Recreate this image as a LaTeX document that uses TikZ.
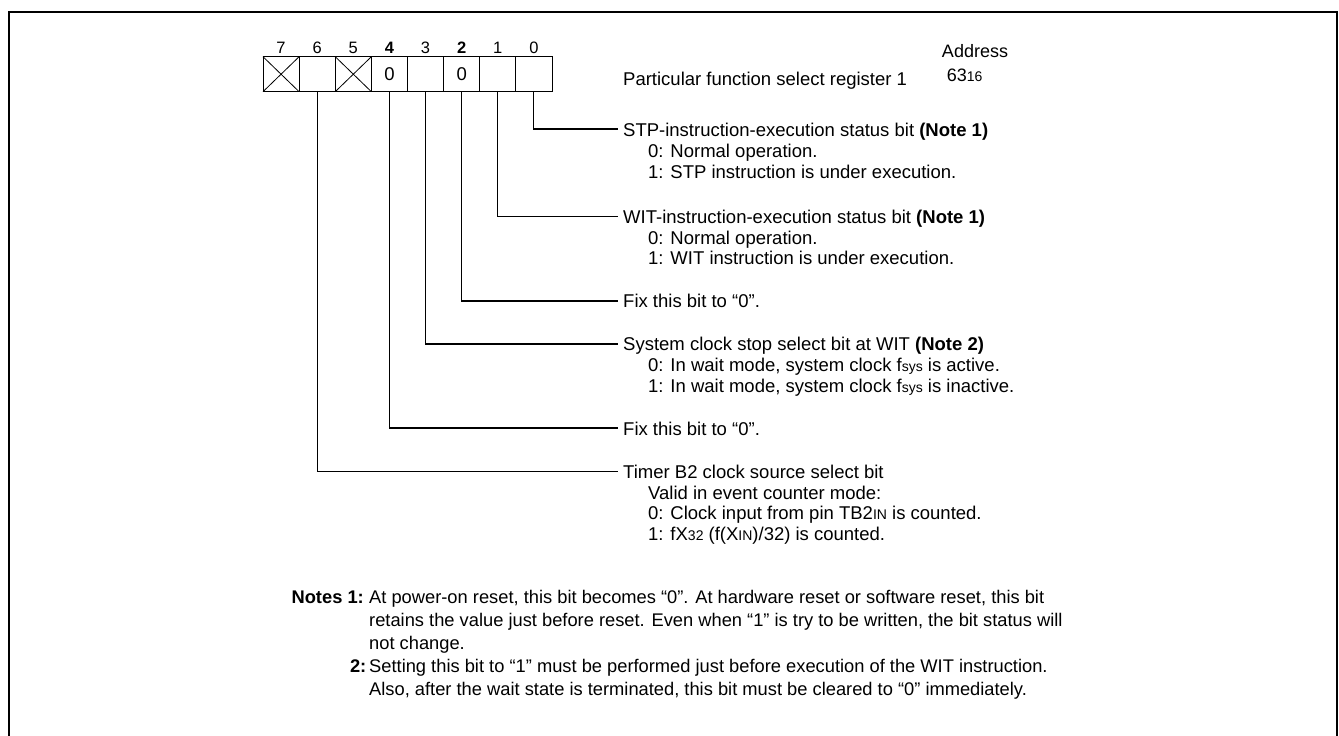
\documentclass[tikz,border=0pt]{standalone}
\usepackage{fontspec}
\setmainfont{Liberation Sans}
\newcommand\smf[1]{{\fontsize{14}{14}\selectfont #1}}
\begin{document}
\begin{tikzpicture}[x=1pt,y=-1pt,
  cell/.style={draw,line width=1pt,minimum width=36.125pt,minimum height=35pt,inner sep=0pt,outer sep=0pt,font=\fontsize{18.5}{20}\selectfont},
  bitnum/.style={inner sep=0pt,anchor=base,font=\fontsize{16.5}{18}\selectfont},
  desc/.style={inner sep=0pt,anchor=base west,font=\fontsize{18.5}{20.7}\selectfont},
  notetxt/.style={inner sep=0pt,anchor=base west,font=\fontsize{18.3}{22}\selectfont},
  notelbl/.style={inner sep=0pt,anchor=base east,font=\fontsize{18.3}{22}\selectfont\bfseries},
  lead/.style={line width=1.1pt},
  xmark/.style={line width=0.8pt}]
\useasboundingbox (0,0) rectangle (1339,736);
\draw[line width=2pt] (9,736) -- (9,11.7) -- (1337,11.7) -- (1337,736);
% register cells
\node[cell] (c7) at (281.06,74.2) {};
\node[cell] (c6) at (317.19,74.2) {};
\node[cell] (c5) at (353.31,74.2) {};
\node[cell] (c4) at (389.44,74.2) {0};
\node[cell] (c3) at (425.56,74.2) {};
\node[cell] (c2) at (461.69,74.2) {0};
\node[cell] (c1) at (497.81,74.2) {};
\node[cell] (c0) at (533.94,74.2) {};
\draw[xmark] (c7.north west) -- (c7.south east) (c7.south west) -- (c7.north east);
\draw[xmark] (c5.north west) -- (c5.south east) (c5.south west) -- (c5.north east);
% bit numbers
\node[bitnum] (n7) at (281.06,53.3) {7};
\node[bitnum] (n6) at (317.19,53.3) {6};
\node[bitnum] (n5) at (353.31,53.3) {5};
\node[bitnum] (n4) at (389.44,53.3) {\bfseries 4};
\node[bitnum] (n3) at (425.56,53.3) {3};
\node[bitnum] (n2) at (461.69,53.3) {\bfseries 2};
\node[bitnum] (n1) at (497.81,53.3) {1};
\node[bitnum] (n0) at (533.94,53.3) {0};
% title and address
\node[desc] (title) at (623,85) {Particular function select register 1};
\node[inner sep=0pt,anchor=base,font=\fontsize{18}{20}\selectfont] (addr) at (975,57.3) {Address};
\node[desc,font=\fontsize{18}{20}\selectfont] (addrv) at (946.7,81.7) {63\smf{16}};
% leader end points
\coordinate (e0) at (618,129);
\coordinate (e1) at (618,216.7);
\coordinate (e2) at (618,301);
\coordinate (e3) at (618,344);
\coordinate (e4) at (618,428);
\coordinate (e6) at (618,471.7);
\draw[lead] (c0.south) |- (e0);
\draw[lead] (c1.south) |- (e1);
\draw[lead] (c2.south) |- (e2);
\draw[lead] (c3.south) |- (e3);
\draw[lead] (c4.south) |- (e4);
\draw[lead] (c6.south) |- (e6);
% bit 0
\node[desc] (t0a) at (623,136.7) {STP-instruction-execution status bit \textbf{(Note 1)}};
\node[desc] (t0b) at (648,157.4) {0: Normal operation.};
\node[desc] (t0c) at (648,178.1) {1: STP instruction is under execution.};
% bit 1
\node[desc] (t1a) at (623,223.4) {WIT-instruction-execution status bit \textbf{(Note 1)}};
\node[desc] (t1b) at (648,244.1) {0: Normal operation.};
\node[desc] (t1c) at (648,264.8) {1: WIT instruction is under execution.};
% bit 2
\node[desc] (t2a) at (623,307.5) {Fix this bit to “0”.};
% bit 3
\node[desc] (t3a) at (623,350.7) {System clock stop select bit at WIT \textbf{(Note 2)}};
\node[desc] (t3b) at (648,371.4) {0: In wait mode, system clock f\smf{sys} is active.};
\node[desc] (t3c) at (648,392.1) {1: In wait mode, system clock f\smf{sys} is inactive.};
% bit 4
\node[desc] (t4a) at (623,435) {Fix this bit to “0”.};
% bit 6
\node[desc] (t6a) at (623,478.3) {Timer B2 clock source select bit};
\node[desc] (t6b) at (648,499) {Valid in event counter mode:};
\node[desc] (t6c) at (648,519.7) {0: Clock input from pin TB2\smf{IN} is counted.};
\node[desc] (t6d) at (648,540.4) {1: fX\smf{32} (f(X\smf{IN})/32) is counted.};
% notes
\node[notelbl] (nl1) at (364,603.5) {Notes 1:};
\node[notetxt] (nt1a) at (369,603.5) {At power-on reset, this bit becomes “0”. At hardware reset or software reset, this bit};
\node[notetxt] (nt1b) at (369,626) {retains the value just before reset. Even when “1” is try to be written, the bit status will};
\node[notetxt] (nt1c) at (369,649) {not change.};
\node[notelbl] (nl2) at (366.5,672.5) {2:};
\node[notetxt] (nt2a) at (369,672.5) {Setting this bit to “1” must be performed just before execution of the WIT instruction.};
\node[notetxt] (nt2b) at (369,695) {Also, after the wait state is terminated, this bit must be cleared to “0” immediately.};
\end{tikzpicture}
\end{document}
